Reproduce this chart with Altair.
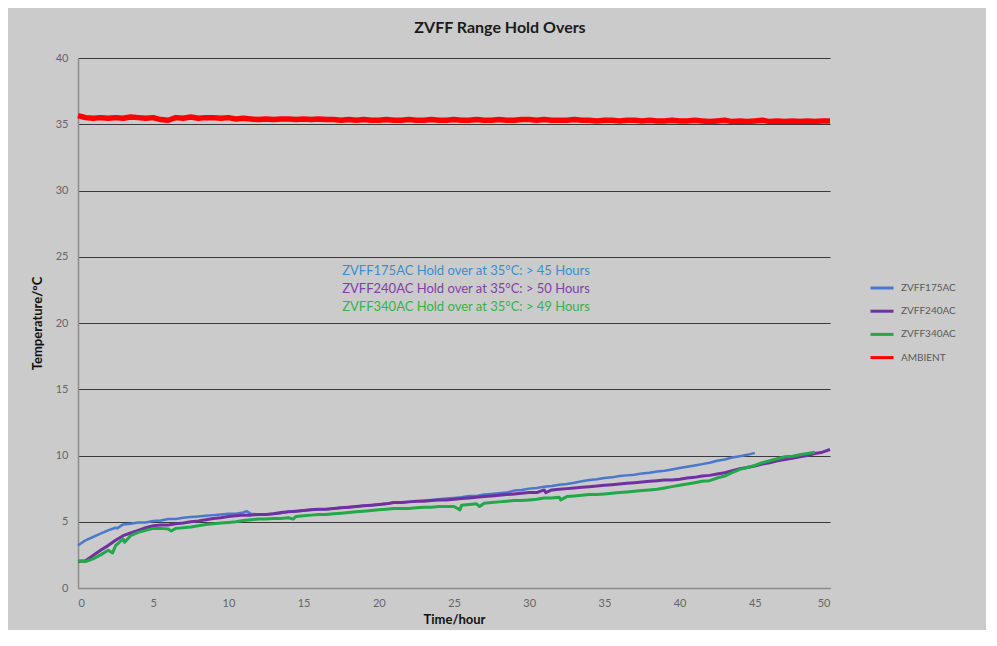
import altair as alt
import pandas as pd

SERIES = ["ZVFF175AC", "ZVFF240AC", "ZVFF340AC", "AMBIENT"]
COLORS = ["#4a78cc", "#7030a0", "#22a84a", "#ff0000"]

# values read at 0.5 h steps
blue_vals = [3.2, 3.6, 3.85, 4.1, 4.35, 4.55, 4.8, 4.85, 4.95, 4.95, 5.05, 5.1, 5.2, 5.2, 5.3, 5.35,
             5.4, 5.45, 5.5, 5.55, 5.6, 5.6, 5.7, 5.6, 5.55, 5.55, 5.6, 5.65, 5.75, 5.8, 5.85, 5.9,
             5.95, 5.95, 6.0, 6.05, 6.1, 6.15, 6.2, 6.25, 6.3, 6.35, 6.45, 6.45, 6.5, 6.55, 6.6, 6.65,
             6.7, 6.75, 6.8, 6.85, 6.95, 6.95, 7.05, 7.1, 7.15, 7.2, 7.35, 7.4, 7.5, 7.55, 7.65, 7.7,
             7.8, 7.85, 7.95, 8.05, 8.15, 8.2, 8.3, 8.35, 8.45, 8.5, 8.55, 8.65, 8.7, 8.8, 8.85, 8.95,
             9.05, 9.15, 9.25, 9.35, 9.45, 9.6, 9.7, 9.85, 9.95, 10.05, 10.2]
purple_vals = [2.0, 2.05, 2.45, 2.85, 3.2, 3.6, 3.95, 4.15, 4.35, 4.55, 4.7, 4.75, 4.75, 4.85, 4.9, 5.0,
               5.05, 5.15, 5.25, 5.3, 5.4, 5.45, 5.5, 5.5, 5.55, 5.55, 5.6, 5.7, 5.75, 5.8, 5.85, 5.9,
               5.95, 5.95, 6.0, 6.05, 6.1, 6.15, 6.2, 6.25, 6.3, 6.35, 6.45, 6.45, 6.5, 6.55, 6.55, 6.6,
               6.65, 6.65, 6.7, 6.75, 6.8, 6.85, 6.9, 6.95, 7.0, 7.05, 7.1, 7.15, 7.2, 7.2, 7.4, 7.4,
               7.45, 7.5, 7.55, 7.6, 7.65, 7.7, 7.75, 7.8, 7.85, 7.9, 7.95, 8.0, 8.05, 8.1, 8.15, 8.15,
               8.2, 8.3, 8.35, 8.45, 8.5, 8.6, 8.7, 8.85, 9.0, 9.1, 9.2, 9.35, 9.45, 9.6, 9.7, 9.8,
               9.9, 10.0, 10.15, 10.25, 10.45]
green_vals = [2.05, 2.0, 2.2, 2.5, 2.85, 3.2, 3.7, 3.95, 4.2, 4.35, 4.5, 4.5, 4.45, 4.5, 4.55, 4.6,
              4.7, 4.8, 4.85, 4.9, 4.95, 5.0, 5.1, 5.15, 5.2, 5.2, 5.25, 5.25, 5.3, 5.4, 5.45, 5.5,
              5.55, 5.55, 5.6, 5.65, 5.7, 5.75, 5.8, 5.85, 5.9, 5.95, 6.0, 6.0, 6.0, 6.05, 6.1, 6.1,
              6.15, 6.15, 6.15, 6.25, 6.3, 6.35, 6.4, 6.45, 6.5, 6.55, 6.6, 6.6, 6.65, 6.7, 6.8, 6.8,
              6.85, 6.9, 6.95, 7.0, 7.05, 7.05, 7.1, 7.15, 7.2, 7.25, 7.3, 7.35, 7.4, 7.45, 7.55, 7.65,
              7.75, 7.85, 7.95, 8.05, 8.1, 8.3, 8.45, 8.7, 8.95, 9.1, 9.25, 9.45, 9.6, 9.75, 9.9, 9.95,
              10.05, 10.15, 10.25]
ambient_vals = [35.65, 35.5, 35.45, 35.5, 35.45, 35.5, 35.45, 35.55, 35.5, 35.45, 35.5, 35.35, 35.3,
                35.5, 35.45, 35.55, 35.45, 35.5, 35.5, 35.45, 35.5, 35.4, 35.45, 35.4, 35.35, 35.4,
                35.35, 35.4, 35.4, 35.35, 35.4, 35.35, 35.4, 35.35, 35.35, 35.3, 35.35, 35.3, 35.35,
                35.3, 35.3, 35.35, 35.3, 35.3, 35.35, 35.3, 35.3, 35.35, 35.3, 35.3, 35.35, 35.3, 35.3,
                35.35, 35.3, 35.3, 35.35, 35.3, 35.3, 35.35, 35.35, 35.3, 35.35, 35.3, 35.3, 35.3,
                35.35, 35.3, 35.3, 35.25, 35.3, 35.3, 35.25, 35.3, 35.3, 35.25, 35.3, 35.25, 35.25,
                35.3, 35.25, 35.25, 35.3, 35.25, 35.2, 35.25, 35.3, 35.2, 35.25, 35.2, 35.25, 35.3,
                35.2, 35.25, 35.2, 35.25, 35.2, 35.25, 35.2, 35.25, 35.25]

# short spikes seen in the traces (time, value)
blue_spikes = [(2.6, 4.5), (11.2, 5.8)]
purple_spikes = [(31.1, 7.2)]
green_spikes = [(2.3, 2.65), (3.1, 3.45), (6.2, 4.3), (14.3, 5.2), (25.4, 5.9), (26.7, 6.15), (32.1, 6.65)]

ANNOT_TEXT = ["ZVFF175AC Hold over at 35°C: > 45 Hours",
              "ZVFF240AC Hold over at 35°C: > 50 Hours",
              "ZVFF340AC Hold over at 35°C: > 49 Hours"]
ANNOT_COLORS = ["#3a8ed0", "#8040aa", "#35b24a"]
ANNOT_X = [25.8, 25.8, 25.8]
ANNOT_Y = [23.9, 22.55, 21.2]

rows = []
for name, vals, spikes in [("ZVFF175AC", blue_vals, blue_spikes),
                           ("ZVFF240AC", purple_vals, purple_spikes),
                           ("ZVFF340AC", green_vals, green_spikes),
                           ("AMBIENT", ambient_vals, [])]:
    pts = [(i * 0.5, v) for i, v in enumerate(vals)] + list(spikes)
    pts.sort()
    for t, v in pts:
        rows.append({"series": name, "t": t, "v": v})
df = pd.DataFrame(rows)

FONT = "Lato"

xenc = alt.X("t:Q", scale=alt.Scale(domain=[0, 50], nice=False),
             axis=alt.Axis(values=list(range(0, 51, 5)), title="Time/hour", grid=False,
                           tickSize=0, labelPadding=9, domainColor="#8c8c8c", domainWidth=1.5,
                           labelColor="#666666", labelFontSize=11, labelFont=FONT,
                           titleFont=FONT, titleFontSize=13, titleFontWeight="bold",
                           titleColor="#111111", titlePadding=5))
yenc = alt.Y("v:Q", scale=alt.Scale(domain=[0, 40], nice=False),
             axis=alt.Axis(values=list(range(0, 41, 5)), title="Temperature/°C", grid=True,
                           gridColor="#3a3a3a", gridWidth=1, tickSize=0, labelPadding=10,
                           domainColor="#8c8c8c", domainWidth=1.5,
                           labelColor="#666666", labelFontSize=11, labelFont=FONT,
                           titleFont=FONT, titleFontSize=13, titleFontWeight="bold",
                           titleColor="#111111", titlePadding=11))
cenc = alt.Color("series:N", scale=alt.Scale(domain=SERIES, range=COLORS),
                 legend=alt.Legend(title=None, orient="none", legendX=791, legendY=217,
                                   symbolType="stroke", symbolStrokeWidth=3, symbolSize=529,
                                   labelFont=FONT, labelFontSize=10, labelColor="#595959",
                                   rowPadding=4.2, labelOffset=6))

def series_layer(name, sw):
    return alt.Chart(df).transform_filter(alt.datum.series == name).mark_line(
        strokeWidth=sw, strokeJoin="round").encode(x=xenc, y=yenc, color=cenc, order="t:Q")

layers = [series_layer("ZVFF175AC", 2.5), series_layer("ZVFF240AC", 3),
          series_layer("ZVFF340AC", 3), series_layer("AMBIENT", 5.5)]

ann_df = pd.DataFrame({"x": ANNOT_X, "y": ANNOT_Y, "label": ANNOT_TEXT, "c": ANNOT_COLORS})
for i in range(3):
    layers.append(alt.Chart(ann_df.iloc[[i]]).mark_text(
        font=FONT, fontSize=13, align="center", baseline="middle", color=ANNOT_COLORS[i]
    ).encode(x=alt.X("x:Q"), y=alt.Y("y:Q"), text="label:N"))

chart = alt.layer(*layers).properties(
    width=752, height=530,
    autosize=alt.AutoSizeParams(type="none"),
    padding={"left": 70, "top": 50, "right": 156, "bottom": 42},
    background="#cbcbcb",
    title=alt.TitleParams("ZVFF Range Hold Overs", font=FONT, fontSize=16, fontWeight="bold",
                          color="#1a1a1a", anchor="middle", dx=46, offset=16),
).configure_view(strokeWidth=0)

chart.save("out.html", embed_options={"renderer": "svg", "actions": False})
